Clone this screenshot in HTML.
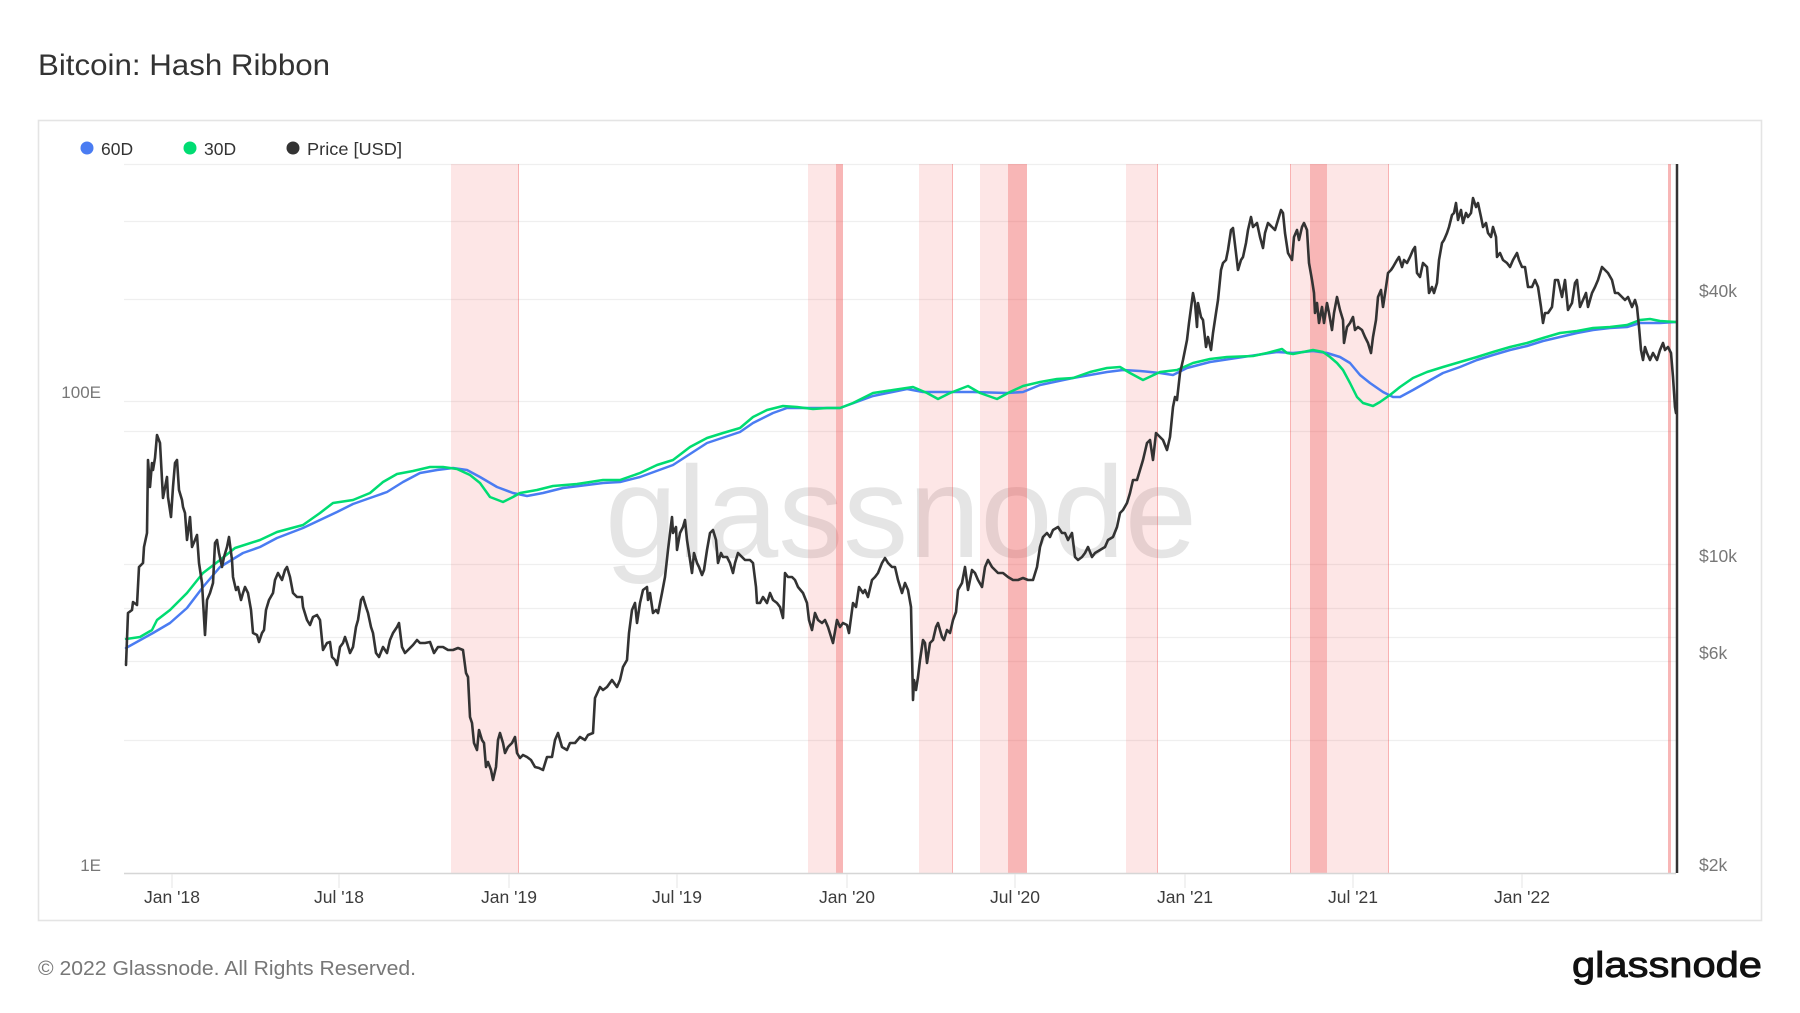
<!DOCTYPE html>
<html>
<head>
<meta charset="utf-8">
<style>
  html, body { margin:0; padding:0; background:#ffffff; }
  svg { display:block; }
  text { font-family: "Liberation Sans", "DejaVu Sans", sans-serif; }
</style>
</head>
<body>
<svg width="1800" height="1013" viewBox="0 0 1800 1013" xmlns="http://www.w3.org/2000/svg">
  <rect x="0" y="0" width="1800" height="1013" fill="#ffffff"/>

  <!-- Title -->
  <text x="38" y="75" font-size="30" fill="#333333" textLength="292" lengthAdjust="spacingAndGlyphs">Bitcoin: Hash Ribbon</text>

  <!-- Frame -->
  <rect x="38.5" y="120.5" width="1723" height="800" fill="#ffffff" stroke="#e4e4e4" stroke-width="1.6"/>

  <!-- Legend -->
  <circle cx="87" cy="148" r="6.5" fill="#4a7cf2"/>
  <text x="101" y="155" font-size="17.5" fill="#333333">60D</text>
  <circle cx="190" cy="148" r="6.5" fill="#00dc72"/>
  <text x="204" y="155" font-size="17.5" fill="#333333">30D</text>
  <circle cx="293" cy="148" r="6.5" fill="#333333"/>
  <text x="307" y="155" font-size="17.5" fill="#333333" textLength="95" lengthAdjust="spacingAndGlyphs">Price [USD]</text>

  <!-- Grid lines -->
  <g stroke="#efefef" stroke-width="1.2">
    <line x1="124" y1="164.5" x2="1676" y2="164.5"/>
    <line x1="124" y1="221.5" x2="1676" y2="221.5"/>
    <line x1="124" y1="299.5" x2="1676" y2="299.5"/>
    <line x1="124" y1="401.5" x2="1676" y2="401.5"/>
    <line x1="124" y1="431.5" x2="1676" y2="431.5"/>
    <line x1="124" y1="564.5" x2="1676" y2="564.5"/>
    <line x1="124" y1="608.5" x2="1676" y2="608.5"/>
    <line x1="124" y1="637.5" x2="1676" y2="637.5"/>
    <line x1="124" y1="661.5" x2="1676" y2="661.5"/>
    <line x1="124" y1="740.5" x2="1676" y2="740.5"/>
  </g>

  <!-- Watermark -->
  <text x="605" y="557" font-size="130" fill="#e5e5e5" textLength="592" lengthAdjust="spacingAndGlyphs">glassnode</text>

  <!-- Capitulation bands -->
  <g fill="rgba(240,80,80,0.14)">
    <rect x="451" y="164" width="68" height="709"/>
    <rect x="808" y="164" width="35" height="709"/>
    <rect x="919" y="164" width="34" height="709"/>
    <rect x="980" y="164" width="47" height="709"/>
    <rect x="1126" y="164" width="32" height="709"/>
    <rect x="1290" y="164" width="99" height="709"/>
    <rect x="1668" y="164" width="3" height="709"/>
  </g>
  <g fill="rgba(240,80,80,0.32)">
    <rect x="836" y="164" width="7" height="709"/>
    <rect x="1008" y="164" width="19" height="709"/>
    <rect x="1310" y="164" width="17" height="709"/>
    <rect x="1668" y="164" width="3" height="709"/>
  </g>
  <g stroke="rgba(240,80,80,0.35)" stroke-width="1">
    <line x1="518.5" y1="164" x2="518.5" y2="873"/>
    <line x1="952.5" y1="164" x2="952.5" y2="873"/>
    <line x1="1157.5" y1="164" x2="1157.5" y2="873"/>
    <line x1="1290.5" y1="164" x2="1290.5" y2="873"/>
    <line x1="1388.5" y1="164" x2="1388.5" y2="873"/>
  </g>

  <!-- Bottom axis and ticks -->
  <line x1="124" y1="873.5" x2="1676" y2="873.5" stroke="#d6d6d6" stroke-width="1.5"/>
  <g stroke="#e6e6e6" stroke-width="1">
    <line x1="172" y1="874" x2="172" y2="888"/>
    <line x1="339" y1="874" x2="339" y2="888"/>
    <line x1="509" y1="874" x2="509" y2="888"/>
    <line x1="677" y1="874" x2="677" y2="888"/>
    <line x1="847" y1="874" x2="847" y2="888"/>
    <line x1="1015" y1="874" x2="1015" y2="888"/>
    <line x1="1185" y1="874" x2="1185" y2="888"/>
    <line x1="1353" y1="874" x2="1353" y2="888"/>
    <line x1="1522" y1="874" x2="1522" y2="888"/>
  </g>

  <!-- X labels -->
  <g font-size="17.5" fill="#3c3c3c" text-anchor="middle">
    <text x="172" y="903">Jan '18</text>
    <text x="339" y="903">Jul '18</text>
    <text x="509" y="903">Jan '19</text>
    <text x="677" y="903">Jul '19</text>
    <text x="847" y="903">Jan '20</text>
    <text x="1015" y="903">Jul '20</text>
    <text x="1185" y="903">Jan '21</text>
    <text x="1353" y="903">Jul '21</text>
    <text x="1522" y="903">Jan '22</text>
  </g>

  <!-- Left Y labels -->
  <g font-size="17" fill="#777777" text-anchor="end">
    <text x="101" y="398">100E</text>
    <text x="101" y="871">1E</text>
  </g>
  <!-- Right Y labels -->
  <g font-size="17.5" fill="#777777">
    <text x="1699" y="297">$40k</text>
    <text x="1699" y="562">$10k</text>
    <text x="1699" y="659">$6k</text>
    <text x="1699" y="871">$2k</text>
  </g>

  <!-- 60D -->
  <path fill="none" stroke="#4a7cf2" stroke-width="2.5" stroke-linejoin="round" stroke-linecap="round"
    d="M126,648 L153,633 L170,623 L187,608 L203,587 L220,567 L243,553 L260,547 L277,538 L303,528 L320,520 L337,512 L353,504 L370,498 L387,492 L403,482 L420,473 L437,470 L453,468 L467,470 L480,477 L497,487 L513,493 L527,496 L543,493 L563,488 L587,485 L603,483 L620,482 L640,477 L673,465 L707,443 L740,432 L753,423 L773,413 L787,408 L807,408 L840,408 L873,396 L907,389 L923,392 L940,392 L973,392 L1007,393 L1023,392 L1040,385 L1073,378 L1107,372 L1123,370 L1140,371 L1160,373 L1173,375 L1187,368 L1210,362 L1243,357 L1277,352 L1293,353 L1313,351 L1327,353 L1340,357 L1350,363 L1360,375 L1370,383 L1383,392 L1393,397 L1400,397 L1413,390 L1427,382 L1443,373 L1460,367 L1477,360 L1493,355 L1510,350 L1527,346 L1543,341 L1560,337 L1577,333 L1593,330 L1610,328 L1627,327 L1640,323 L1660,323 L1676,322"/>

  <!-- 30D -->
  <path fill="none" stroke="#00dc72" stroke-width="2.5" stroke-linejoin="round" stroke-linecap="round"
    d="M126,639 L140,637 L152,630 L157,620 L170,610 L187,593 L203,573 L220,560 L235,548 L260,540 L277,532 L303,525 L320,513 L333,503 L353,500 L370,493 L383,482 L397,474 L413,471 L430,467 L443,467 L457,469 L470,475 L480,483 L490,497 L503,502 L513,497 L520,493 L537,490 L553,486 L577,484 L603,480 L620,480 L640,473 L657,465 L673,460 L690,447 L707,438 L723,433 L740,428 L753,417 L767,410 L783,406 L797,407 L813,409 L827,408 L840,408 L853,403 L873,393 L893,390 L913,387 L927,393 L938,399 L950,393 L968,386 L980,393 L997,399 L1010,392 L1023,386 L1040,382 L1057,379 L1073,378 L1090,372 L1107,368 L1120,367 L1130,373 L1143,380 L1160,372 L1177,370 L1193,363 L1210,359 L1227,357 L1253,356 L1267,353 L1282,349 L1287,353 L1293,354 L1303,352 L1313,350 L1323,352 L1330,357 L1337,363 L1343,370 L1350,383 L1357,397 L1363,403 L1373,406 L1380,402 L1390,395 L1400,387 L1413,378 L1427,372 L1443,367 L1460,362 L1477,357 L1493,352 L1510,347 L1527,343 L1543,338 L1560,333 L1577,331 L1593,328 L1610,327 L1627,325 L1640,320 L1650,319 L1660,321 L1676,322"/>

  <!-- Price -->
  <path fill="none" stroke="#333333" stroke-width="2.6" stroke-linejoin="round" stroke-linecap="round"
    d="M126,665 L128,613 L132,610 L133,602 L137,605 L139,567 L143,563 L144,547 L147,533 L148,460 L150,487 L152,463 L153,470 L155,458 L157,435 L160,443 L163,498 L167,477 L168,497 L171,517 L173,487 L175,463 L177,460 L179,490 L182,500 L183,507 L185,513 L187,540 L190,517 L192,547 L195,540 L197,535 L199,563 L202,583 L205,635 L207,600 L210,593 L213,583 L215,543 L217,540 L219,553 L222,567 L224,557 L227,547 L229,537 L232,560 L233,577 L236,590 L238,587 L241,600 L243,593 L245,587 L248,593 L251,610 L253,633 L257,635 L259,642 L262,633 L264,630 L266,610 L269,600 L273,593 L275,580 L278,573 L282,580 L285,570 L287,567 L290,577 L293,593 L297,597 L302,597 L303,607 L307,620 L310,625 L313,617 L317,615 L320,620 L322,640 L323,650 L327,643 L330,642 L332,657 L335,660 L337,665 L340,647 L343,643 L345,637 L347,643 L350,653 L353,647 L356,627 L358,620 L361,600 L363,597 L366,607 L368,613 L371,627 L373,633 L376,653 L379,657 L383,647 L387,653 L390,640 L393,633 L397,627 L399,623 L402,647 L405,653 L408,650 L413,645 L417,640 L420,643 L425,643 L430,642 L434,653 L438,647 L443,647 L448,650 L453,650 L458,648 L463,650 L466,673 L468,677 L470,717 L472,723 L474,743 L477,750 L479,730 L482,740 L484,743 L486,767 L488,762 L491,770 L493,780 L496,767 L498,740 L500,733 L503,743 L505,753 L508,747 L512,743 L515,737 L517,753 L520,758 L523,755 L527,757 L531,760 L535,767 L539,768 L543,770 L547,757 L552,757 L555,740 L558,733 L562,747 L567,750 L570,743 L575,743 L580,737 L585,740 L588,735 L593,733 L595,698 L600,687 L603,690 L607,687 L612,680 L617,687 L620,680 L623,667 L627,660 L629,633 L632,610 L635,603 L637,623 L640,603 L643,590 L647,587 L648,600 L650,593 L653,613 L656,610 L658,613 L662,593 L665,577 L668,550 L672,517 L673,533 L676,527 L677,550 L680,533 L683,527 L685,520 L687,540 L689,553 L692,573 L694,553 L697,563 L699,567 L702,575 L704,570 L707,550 L710,533 L713,530 L716,540 L718,563 L721,553 L723,557 L727,557 L730,563 L733,573 L735,563 L738,553 L742,557 L745,560 L750,560 L753,563 L756,587 L757,603 L760,603 L763,597 L767,603 L770,593 L773,600 L777,603 L780,607 L783,618 L785,573 L788,577 L792,577 L795,580 L798,587 L803,593 L807,603 L809,620 L812,630 L815,613 L818,620 L822,623 L825,620 L828,627 L833,643 L837,620 L840,627 L843,623 L847,625 L849,633 L853,603 L856,607 L859,587 L863,593 L865,590 L868,597 L872,580 L875,577 L878,573 L882,563 L885,558 L888,563 L892,567 L895,567 L898,580 L902,593 L905,583 L908,590 L911,607 L913,700 L914,680 L916,690 L918,677 L920,660 L923,640 L925,643 L927,663 L930,643 L933,640 L936,627 L938,623 L942,637 L944,640 L947,630 L950,633 L953,620 L956,612 L958,590 L962,583 L965,567 L968,590 L972,570 L975,573 L978,580 L982,587 L985,567 L988,560 L992,567 L995,570 L998,573 L1003,573 L1008,577 L1013,580 L1018,580 L1023,578 L1028,580 L1033,580 L1037,567 L1040,547 L1043,537 L1047,533 L1050,537 L1053,530 L1058,527 L1062,533 L1065,533 L1068,540 L1072,533 L1075,557 L1078,560 L1082,557 L1085,553 L1088,547 L1092,557 L1095,553 L1100,550 L1105,547 L1108,540 L1113,537 L1117,527 L1120,513 L1123,510 L1127,503 L1130,493 L1133,480 L1137,480 L1140,470 L1143,460 L1147,443 L1150,440 L1153,460 L1156,433 L1160,437 L1163,440 L1167,450 L1170,437 L1173,407 L1175,397 L1177,400 L1180,373 L1183,360 L1187,340 L1189,323 L1193,293 L1195,303 L1197,327 L1198,303 L1201,317 L1203,320 L1206,347 L1208,337 L1211,350 L1213,333 L1216,313 L1218,300 L1221,270 L1223,263 L1226,260 L1228,250 L1231,230 L1233,228 L1236,253 L1238,270 L1241,260 L1243,257 L1246,243 L1248,230 L1251,217 L1253,227 L1257,223 L1260,237 L1263,248 L1265,233 L1268,223 L1272,227 L1275,230 L1278,220 L1281,210 L1283,213 L1285,233 L1288,253 L1292,260 L1294,237 L1297,230 L1299,240 L1302,227 L1304,223 L1307,230 L1309,263 L1312,280 L1314,293 L1315,313 L1317,303 L1319,323 L1322,307 L1324,323 L1327,303 L1329,313 L1332,330 L1334,313 L1337,297 L1340,310 L1343,320 L1344,343 L1347,327 L1350,323 L1353,317 L1355,330 L1358,327 L1362,330 L1365,337 L1368,343 L1371,353 L1373,337 L1376,320 L1378,297 L1381,290 L1383,307 L1386,287 L1388,273 L1391,270 L1393,267 L1397,260 L1399,257 L1402,267 L1404,260 L1407,263 L1410,257 L1413,250 L1415,247 L1417,273 L1420,277 L1423,263 L1427,267 L1429,293 L1432,287 L1434,293 L1437,283 L1439,260 L1442,243 L1444,240 L1447,233 L1449,227 L1452,215 L1454,213 L1456,203 L1458,220 L1461,210 L1463,223 L1466,213 L1468,217 L1471,213 L1473,198 L1476,207 L1478,203 L1481,217 L1483,227 L1486,223 L1488,233 L1491,237 L1493,227 L1496,237 L1497,257 L1500,253 L1503,260 L1507,263 L1510,267 L1513,260 L1517,253 L1519,260 L1522,267 L1525,267 L1528,287 L1532,287 L1535,280 L1538,287 L1541,307 L1543,323 L1545,313 L1548,313 L1552,307 L1555,280 L1558,280 L1562,297 L1565,280 L1568,310 L1572,303 L1575,283 L1577,280 L1580,307 L1583,300 L1586,293 L1588,307 L1592,293 L1595,287 L1598,280 L1602,267 L1605,270 L1608,273 L1612,280 L1615,293 L1618,293 L1622,297 L1625,300 L1628,297 L1632,307 L1635,300 L1637,307 L1639,327 L1641,350 L1643,360 L1645,347 L1647,353 L1650,360 L1653,353 L1657,360 L1660,350 L1663,343 L1665,350 L1668,347 L1671,353 L1673,377 L1675,407 L1676,413"/>

  <!-- End vertical line -->
  <line x1="1677" y1="164" x2="1677" y2="873" stroke="#333333" stroke-width="2.5"/>

  <!-- Footer -->
  <text x="38" y="975" font-size="20" fill="#777777" textLength="378" lengthAdjust="spacingAndGlyphs">© 2022 Glassnode. All Rights Reserved.</text>
  <text x="1572" y="977" font-size="36" fill="#111111" stroke="#111111" stroke-width="0.9" textLength="190" lengthAdjust="spacingAndGlyphs">glassnode</text>
</svg>
</body>
</html>
